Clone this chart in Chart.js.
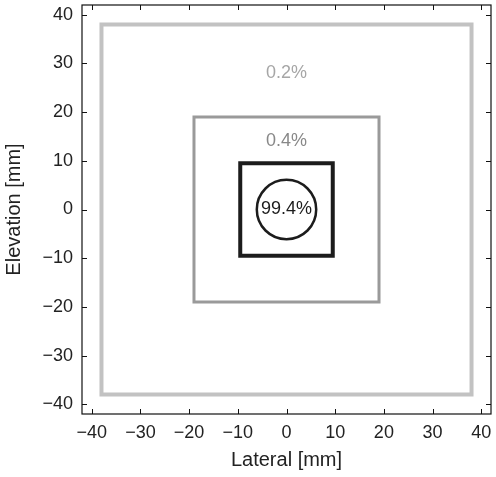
<!DOCTYPE html>
<html>
<head>
<meta charset="utf-8">
<script src="https://cdn.jsdelivr.net/npm/chart.js@4/dist/chart.umd.min.js"></script>
<style>
  html, body { margin: 0; padding: 0; background: #fff; }
  #wrap { width: 496px; height: 477px; }
</style>
</head>
<body>
<div id="wrap"><canvas id="chart"></canvas></div>
<script>
// data
const tickValues = [-40, -30, -20, -10, 0, 10, 20, 30, 40];
const squareHalf = [38, 19, 9.5];            // half side of each square [mm]
const squareColors = ["#c2c2c2", "#9a9a9a", "#1c1c1c"];
const squareWidths = [4, 3, 4];
const circleCenter = [0, 0];
const circleRadius = 6.1;
const labelTexts = ["0.2%", "0.4%", "99.4%"];
const labelX = [0, 0, 0];
const labelY = [28, 14, 0];
const labelColors = ["#a6a6a6", "#888888", "#1c1c1c"];

// closed outline, going round once more to the 2nd corner so every corner gets a mitre
function squarePoints(h) {
    return [
        { x: -h, y: -h }, { x: -h, y: h }, { x: h, y: h },
        { x: h, y: -h }, { x: -h, y: -h }, { x: -h, y: h }
    ];
}

const datasets = squareHalf.map((h, i) => ({
    data: squarePoints(h),
    showLine: true,
    borderColor: squareColors[i],
    borderWidth: squareWidths[i],
    pointRadius: 0,
    borderJoinStyle: "miter",
    fill: false
}));

const font = "'Liberation Sans', Arial, sans-serif";

const extras = {
    id: "extras",
    afterDatasetsDraw(chart) {
        const { ctx, chartArea: a, scales: { x, y } } = chart;
        ctx.save();
        // circle
        const cx = x.getPixelForValue(circleCenter[0]);
        const cy = y.getPixelForValue(circleCenter[1]);
        const r = x.getPixelForValue(circleRadius) - x.getPixelForValue(0);
        ctx.beginPath();
        ctx.arc(cx, cy, r, 0, Math.PI * 2);
        ctx.lineWidth = 2.5;
        ctx.strokeStyle = "#1c1c1c";
        ctx.stroke();
        // labels
        ctx.font = "18px " + font;
        ctx.textAlign = "center";
        ctx.textBaseline = "middle";
        labelTexts.forEach((t, i) => {
            ctx.fillStyle = labelColors[i];
            ctx.fillText(t, x.getPixelForValue(labelX[i]), y.getPixelForValue(labelY[i]));
        });
        // box
        ctx.strokeStyle = "#111";
        ctx.lineWidth = 1.2;
        ctx.strokeRect(a.left, a.top, a.right - a.left, a.bottom - a.top);
        // inward ticks on all sides
        const len = 5;
        ctx.beginPath();
        tickValues.forEach(v => {
            const px = Math.round(x.getPixelForValue(v)) + 0.5;
            ctx.moveTo(px, a.bottom); ctx.lineTo(px, a.bottom - len);
            ctx.moveTo(px, a.top); ctx.lineTo(px, a.top + len);
            const py = Math.round(y.getPixelForValue(v)) + 0.5;
            ctx.moveTo(a.left, py); ctx.lineTo(a.left + len, py);
            ctx.moveTo(a.right, py); ctx.lineTo(a.right - len, py);
        });
        ctx.lineWidth = 1;
        ctx.stroke();
        ctx.restore();
    }
};

new Chart(document.getElementById("chart"), {
    type: "scatter",
    data: { datasets: datasets },
    plugins: [extras],
    options: {
        responsive: true,
        maintainAspectRatio: false,
        animation: false,
        layout: { padding: { top: 5, right: 5, left: 0, bottom: 0 } },
        plugins: { legend: { display: false }, tooltip: { enabled: false } },
        scales: {
            x: {
                type: "linear",
                min: -42, max: 42,
                afterBuildTicks: s => { s.ticks = tickValues.map(v => ({ value: v })); },
                afterFit: s => { s.height = 63; s.paddingLeft = 0; s.paddingRight = 0; },
                grid: { display: false, drawTicks: false },
                border: { display: false },
                ticks: {
                    color: "#222", padding: 8, maxRotation: 0,
                    font: { size: 18, family: font },
                    callback: v => String(v).replace("-", "\u2212")
                },
                title: {
                    display: true, text: "Lateral [mm]", color: "#222",
                    font: { size: 20, family: font }, padding: { top: 4, bottom: 5 }
                }
            },
            y: {
                type: "linear",
                min: -42, max: 42,
                afterBuildTicks: s => { s.ticks = tickValues.map(v => ({ value: v })); },
                afterFit: s => { s.width = 82; s.paddingTop = 0; s.paddingBottom = 0; },
                grid: { display: false, drawTicks: false },
                border: { display: false },
                ticks: {
                    color: "#222", padding: 9,
                    font: { size: 18, family: font },
                    callback: v => String(v).replace("-", "\u2212")
                },
                title: {
                    display: true, text: "Elevation [mm]", color: "#222",
                    font: { size: 20, family: font }, padding: { top: 2, bottom: 4 }
                }
            }
        }
    }
});
</script>
</body>
</html>
